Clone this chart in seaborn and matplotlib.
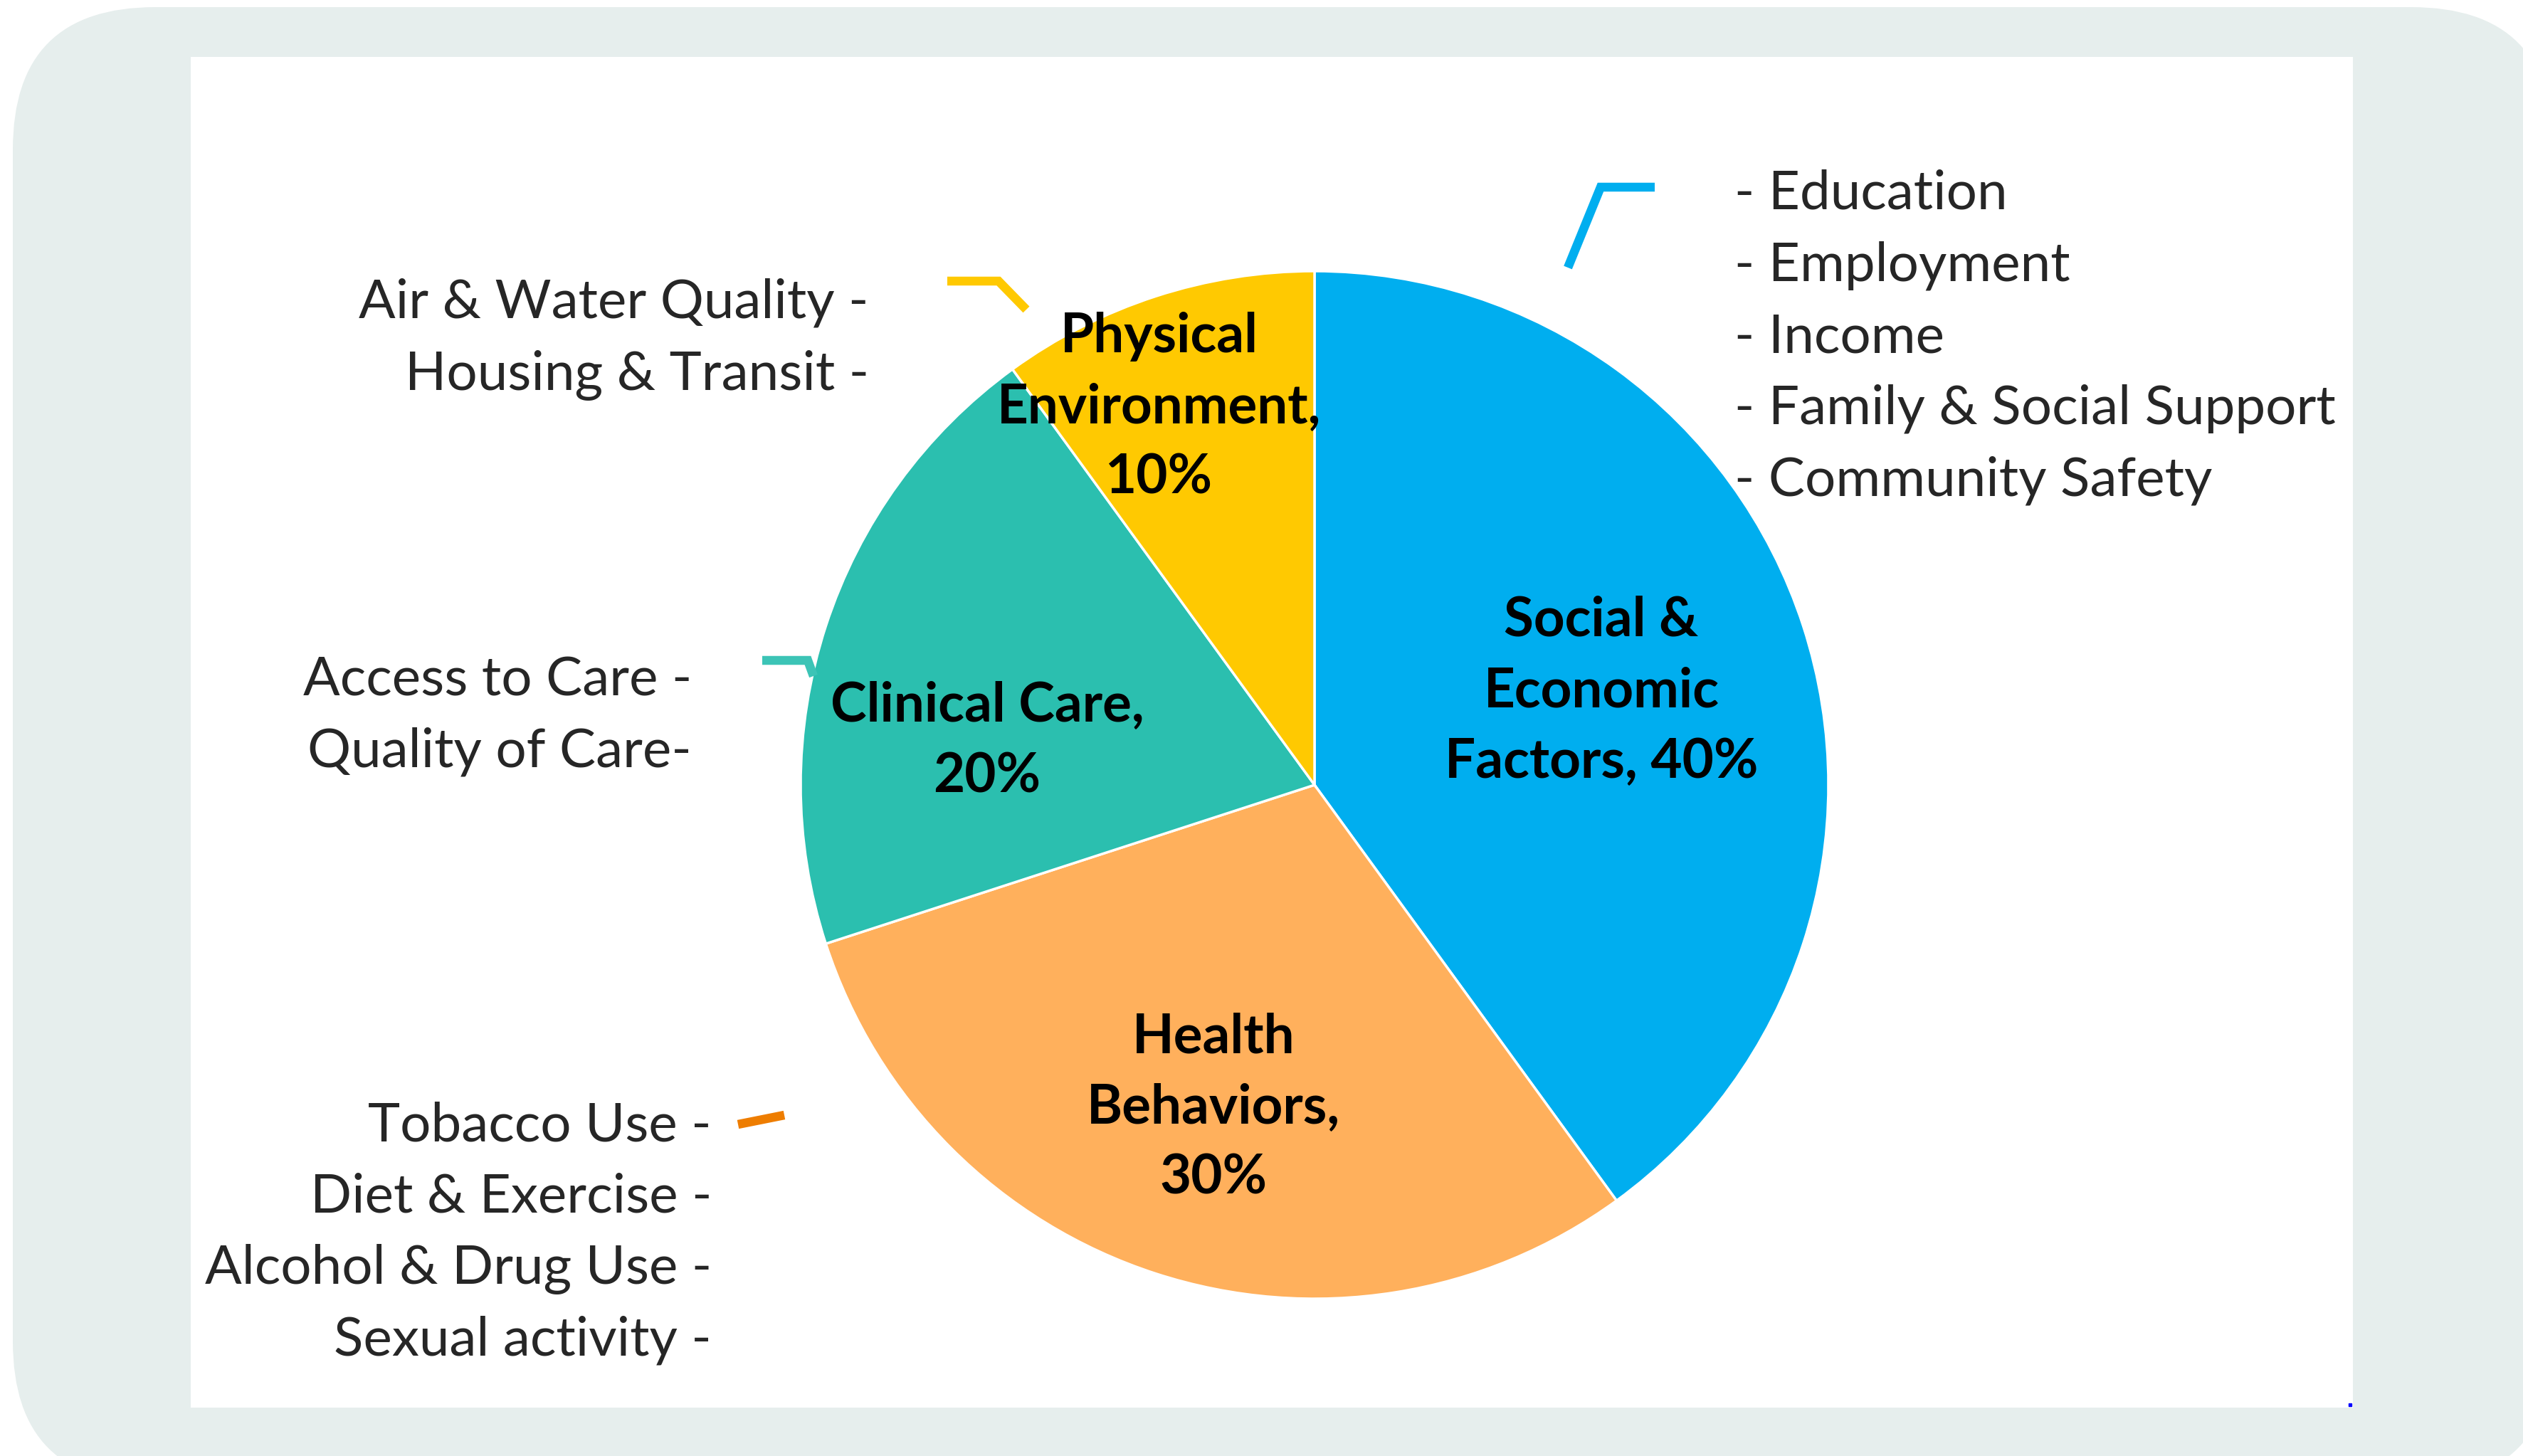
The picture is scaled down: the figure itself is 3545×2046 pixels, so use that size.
import matplotlib
matplotlib.use("Agg")
import matplotlib.pyplot as plt
import seaborn as sns
from matplotlib.patches import FancyBboxPatch, Rectangle

# 資料
categories = ["Social &\nEconomic\nFactors, 40%", "Health\nBehaviors,\n30%",
              "Clinical Care,\n20%", "Physical\nEnvironment,\n10%"]
shares = [40, 30, 20, 10]
slice_colors = ["#00AEEF", "#FFB05C", "#2BBFAF", "#FFC901"]

social_items = ["- Education", "- Employment", "- Income",
                "- Family & Social Support", "- Community Safety"]
physical_items = ["Air & Water Quality -", "Housing & Transit -"]
clinical_items = ["Access to Care -", "Quality of Care-"]
behavior_items = ["Tobacco Use -", "Diet & Exercise -", "Alcohol & Drug Use -", "Sexual activity -"]

sns.set_theme(style="white")
plt.rcParams["font.family"] = ["Lato", "DejaVu Sans"]

W, H = 3545, 2046
fig = plt.figure(figsize=(W / 100, H / 100), dpi=100)
ax = fig.add_axes([0, 0, 1, 1])

def Y(y):  # 圖片座標 -> 繪圖座標 (y 往上)
    return H - y

# 背景圓角框 + 白色面板
ax.add_patch(FancyBboxPatch((18, Y(2085)), 3570, 2075,
                            boxstyle="round,pad=0,rounding_size=200",
                            fc="#E6EEED", ec="none", zorder=0))
ax.add_patch(Rectangle((268, Y(1978)), 3306 - 268, 1978 - 80,
                       fc="white", ec="none", zorder=1))

# 圓餅圖
cx, cy, r = 1847, 1103, 722
ax.pie(shares, colors=slice_colors, startangle=90, counterclock=False,
       center=(cx, Y(cy)), radius=r,
       wedgeprops=dict(edgecolor="white", linewidth=2.5, zorder=2))

# 扇形內的標籤 (每行分開畫)
fs_bold = 55
fs = 55
label_pos = [(2250, 894), (1705, 1479), (1387, 1014), (1629, 495)]
line_gap = 99.5
for text, (lx, ly) in zip(categories, label_pos):
    for i, line in enumerate(text.split("\n")):
        ax.text(lx, Y(ly + i * line_gap), line, ha="center", va="baseline",
                fontsize=fs_bold, fontweight="bold", color="black", zorder=5)

# 旁邊的說明文字
item_gap = 100.6
for i, t in enumerate(social_items):
    ax.text(2437, Y(294 + i * item_gap), t, ha="left", va="baseline", fontsize=fs, zorder=5)
for i, t in enumerate(physical_items):
    ax.text(1221, Y(447 + i * item_gap), t, ha="right", va="baseline", fontsize=fs, zorder=5)
for i, t in enumerate(clinical_items):
    ax.text(972, Y(977 + i * item_gap), t, ha="right", va="baseline", fontsize=fs, zorder=5)
for i, t in enumerate(behavior_items):
    ax.text(1000, Y(1603 + i * item_gap), t, ha="right", va="baseline", fontsize=fs, zorder=5)

# 引導線
leaders = [
    ([2203, 2249, 2325], [376, 263, 263], "#00AEEF"),
    ([1331, 1403, 1442], [395, 395, 435], "#FFC901"),
    ([1071, 1135, 1143], [928, 928, 950], "#3CC4B6"),
    ([1037, 1102], [1580, 1567], "#EE7D00"),
]
for xs, ys, c in leaders:
    ax.plot(xs, [Y(v) for v in ys], color=c, lw=9, solid_capstyle="butt",
            solid_joinstyle="miter", zorder=3)

ax.plot([3302], [Y(1974)], marker="s", ms=2.5, color="#0000FF", zorder=4)

ax.set_xlim(0, W)
ax.set_ylim(0, H)
ax.set_aspect("equal")
ax.axis("off")

fig.savefig("out.png", dpi=100, facecolor="white")
